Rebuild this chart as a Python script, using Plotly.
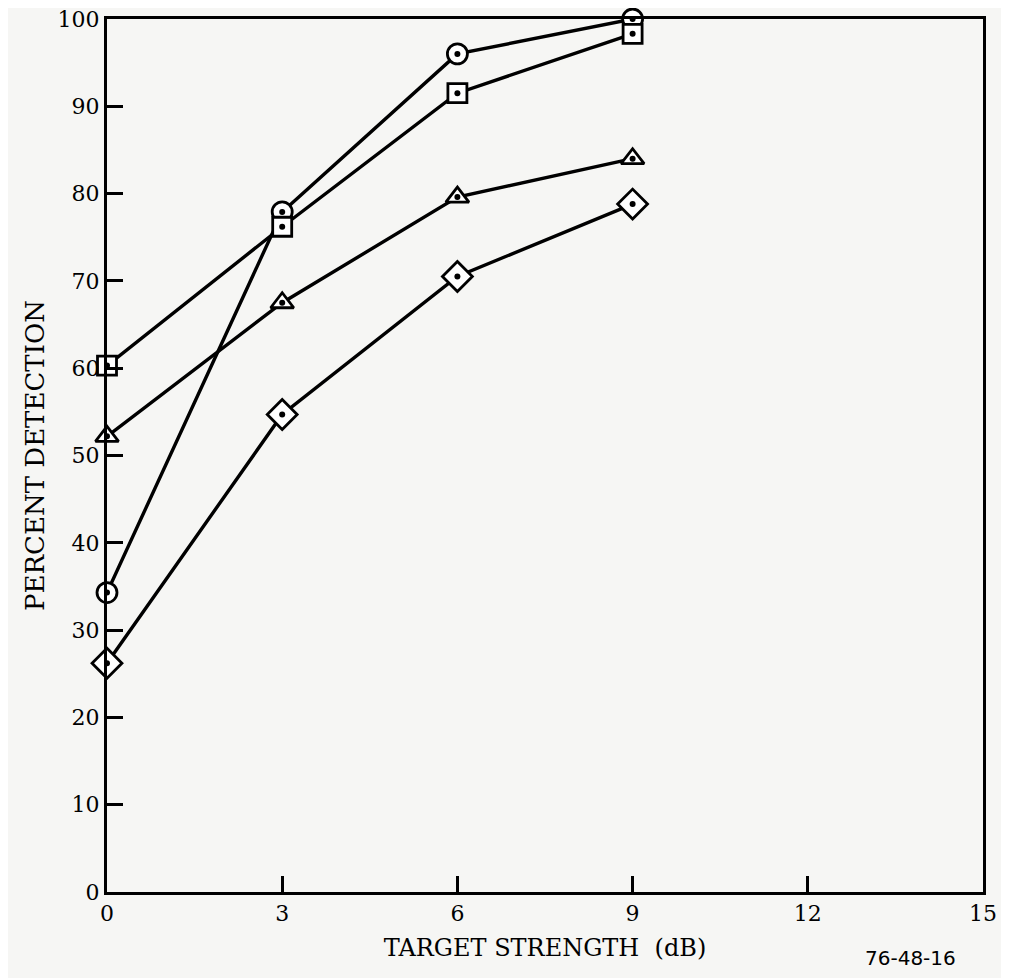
import plotly.graph_objects as go

x_db = [0, 3, 6, 9]
circle_pct = [34.3, 77.9, 96.0, 100.0]
square_pct = [60.3, 76.2, 91.5, 98.3]
triangle_pct = [52.2, 67.5, 79.6, 84.0]
diamond_pct = [26.2, 54.7, 70.5, 78.8]

x_ticks = [0, 3, 6, 9, 12, 15]
y_ticks = [0, 10, 20, 30, 40, 50, 60, 70, 80, 90, 100]

series = [
    (circle_pct, "circle", 20),
    (square_pct, "square", 19),
    (triangle_pct, "triangle-up", 20),
    (diamond_pct, "diamond", 23),
]

fig = go.Figure()
for ys, sym, size in series:
    fig.add_trace(go.Scatter(
        x=x_db, y=ys, mode="lines+markers",
        line=dict(color="black", width=3.4),
        marker=dict(symbol=sym, size=size, color="white",
                    line=dict(color="black", width=2.8)),
        showlegend=False, cliponaxis=False, hoverinfo="skip"))
for ys, sym, size in series:
    fig.add_trace(go.Scatter(
        x=x_db, y=ys, mode="markers",
        marker=dict(symbol="circle", size=6, color="black"),
        showlegend=False, cliponaxis=False, hoverinfo="skip"))

font_serif = "DejaVu Serif"
bg = "#f6f6f4"
fig.update_layout(
    width=1001, height=970,
    margin=dict(l=99, r=26, t=11, b=86, autoexpand=False),
    paper_bgcolor=bg, plot_bgcolor=bg,
    font=dict(family=font_serif, color="black", size=20),
    xaxis=dict(range=[0, 15], tickvals=x_ticks, ticks="inside", ticklen=16,
               tickwidth=2.5, tickcolor="black", showline=True, linewidth=3,
               linecolor="black", mirror=True, showgrid=False, zeroline=False,
               automargin=False, ticklabeloverflow="allow",
               tickfont=dict(size=22, family=font_serif),
               title=dict(text="TARGET STRENGTH  (dB)", standoff=14,
                          font=dict(size=24, family=font_serif))),
    yaxis=dict(range=[0, 100], tickvals=y_ticks, ticks="inside", ticklen=16,
               tickwidth=2.5, tickcolor="black", showline=True, linewidth=3,
               linecolor="black", mirror=True, showgrid=False, zeroline=False,
               automargin=False, ticklabeloverflow="allow",
               tickfont=dict(size=22, family=font_serif),
               title=dict(text="PERCENT DETECTION", standoff=6,
                          font=dict(size=26, family=font_serif))),
    annotations=[dict(text="76-48-16", xref="paper", yref="paper",
                      x=0.917, y=-0.0755, xanchor="center", yanchor="middle",
                      showarrow=False, font=dict(size=20, family="DejaVu Sans"))],
)

fig.write_html("out.html")
